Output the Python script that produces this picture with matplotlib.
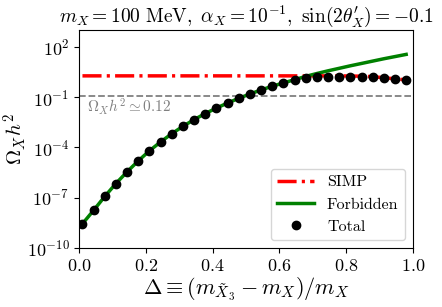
import numpy as np
import matplotlib
matplotlib.use("Agg")
import matplotlib.pyplot as plt
from matplotlib.ticker import NullLocator

plt.rcParams['font.family'] = 'serif'
plt.rcParams['font.serif'] = ['cmr10']
plt.rcParams['mathtext.fontset'] = 'cm'
plt.rcParams['axes.formatter.use_mathtext'] = True

# valores (log10 de Omega h^2)
delta = np.linspace(0.01, 0.98, 30)
log_forbidden = [-8.55, -7.75, -6.92, -6.15, -5.45, -4.80, -4.20, -3.67, -3.18, -2.74,
                 -2.34, -1.98, -1.65, -1.35, -1.07, -0.81, -0.57, -0.35, -0.15, 0.04,
                 0.24, 0.41, 0.57, 0.72, 0.87, 1.01, 1.15, 1.29, 1.42, 1.55]
log_simp = [0.27] * 24 + [0.26, 0.25, 0.22, 0.16, 0.09, 0.03]
log_total = log_forbidden[:20] + [0.13, 0.21, 0.22, 0.22, 0.22, 0.22, 0.21, 0.13, 0.07, 0.01]

omega_obs = 0.12
y_ticks = [1e-10, 1e-7, 1e-4, 1e-1, 1e2]
x_ticks = [0.0, 0.2, 0.4, 0.6, 0.8, 1.0]

fig = plt.figure(figsize=(4.42, 3.07), dpi=100)
ax = fig.add_axes([0.179, 0.192, 0.755, 0.71])

ax.axhline(omega_obs, color='gray', ls='--', lw=1.3, zorder=1)
ax.plot(delta, 10 ** np.array(log_simp), color='red', lw=2.5, ls=(0, (5.5, 1.5, 0.9, 1.5)), label='SIMP', zorder=2)
ax.plot(delta, 10 ** np.array(log_forbidden), color='green', lw=2.5, label='Forbidden', zorder=3)
ax.plot(delta, 10 ** np.array(log_total), 'o', color='black', ms=6, label='Total', zorder=4)

ax.text(0.024, 10 ** -1.87, r'$\Omega_X h^2 \simeq 0.12$', color='gray', fontsize=11, va='baseline')

ax.set_yscale('log')
ax.set_xlim(0, 1)
ax.set_ylim(1e-10, 1e3)
ax.set_yticks(y_ticks)
ax.yaxis.set_minor_locator(NullLocator())
ax.set_xticks(x_ticks)
ax.tick_params(labelsize=13)

ax.set_xlabel(r'$\Delta \equiv (m_{\tilde{X}_3} - m_X)/m_X$', fontsize=16)
ax.xaxis.set_label_coords(0.5, -0.125)
ax.set_ylabel(r'$\Omega_X h^2$', fontsize=15)
ax.yaxis.set_label_coords(-0.15, 0.5)
ax.set_title(r'$m_X = 100\ \mathrm{MeV},\ \alpha_X = 10^{-1},\ \sin(2\theta^\prime_X) = -0.1$', fontsize=14)

ax.legend(loc='lower right', fontsize=11.5, handlelength=2.3)

plt.savefig('out.png', dpi=100)
